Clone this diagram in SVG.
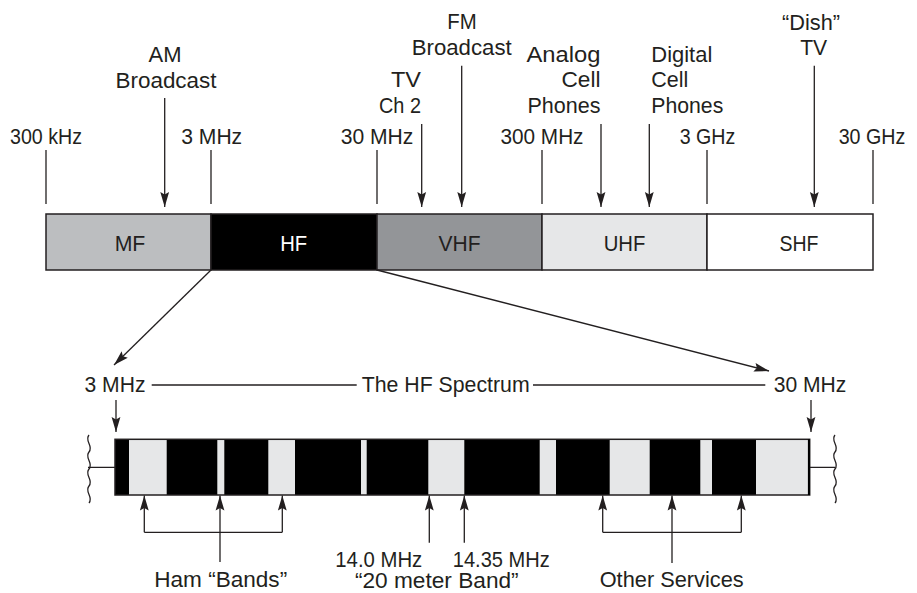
<svg xmlns="http://www.w3.org/2000/svg" width="917" height="593" viewBox="0 0 917 593">
<defs>
<style>
text{font-family:"Liberation Sans",Arial,sans-serif;font-size:21.5px;fill:#231f20}
.m{text-anchor:middle}.e{text-anchor:end}.s{text-anchor:start}
.w{fill:#ffffff}
.ln{stroke:#231f20;stroke-width:1.3;fill:none}
.ar{stroke:#231f20;stroke-width:1.3;fill:none;marker-end:url(#ah)}
.seg{stroke:#231f20;stroke-width:1.5}
.band{fill:#e6e7e8}
</style>
<marker id="ah" markerUnits="userSpaceOnUse" markerWidth="16" markerHeight="10" refX="15" refY="5" orient="auto">
<path d="M0,0.6 L15,5 L0,9.4 L2.5,5 Z" fill="#231f20"/>
</marker>
</defs>

<g id="frequency-labels">
<text class="m" x="46" y="144.3" textLength="72" lengthAdjust="spacingAndGlyphs">300 kHz</text>
<text class="m" x="211.7" y="144.3" textLength="61" lengthAdjust="spacingAndGlyphs">3 MHz</text>
<text class="m" x="377" y="144.3" textLength="72.6" lengthAdjust="spacingAndGlyphs">30 MHz</text>
<text class="m" x="542" y="144.3" textLength="83" lengthAdjust="spacingAndGlyphs">300 MHz</text>
<text class="m" x="707.5" y="144.3" textLength="55.6" lengthAdjust="spacingAndGlyphs">3 GHz</text>
<text class="m" x="872" y="144.3" textLength="66.6" lengthAdjust="spacingAndGlyphs">30 GHz</text>
</g>

<g id="service-labels">
<text class="m" x="165" y="62" textLength="33" lengthAdjust="spacingAndGlyphs">AM</text>
<text class="m" x="166" y="88" textLength="101" lengthAdjust="spacingAndGlyphs">Broadcast</text>
<text class="e" x="421" y="86.5" textLength="30" lengthAdjust="spacingAndGlyphs">TV</text>
<text class="e" x="421" y="112.7" textLength="42" lengthAdjust="spacingAndGlyphs">Ch 2</text>
<text class="m" x="462" y="29" textLength="29.4" lengthAdjust="spacingAndGlyphs">FM</text>
<text class="m" x="461.7" y="55" textLength="100" lengthAdjust="spacingAndGlyphs">Broadcast</text>
<text class="e" x="600.5" y="61.7" textLength="74" lengthAdjust="spacingAndGlyphs">Analog</text>
<text class="e" x="600.5" y="86.5" textLength="39" lengthAdjust="spacingAndGlyphs">Cell</text>
<text class="e" x="600.5" y="112.7" textLength="73" lengthAdjust="spacingAndGlyphs">Phones</text>
<text class="s" x="651.3" y="61.7" textLength="61" lengthAdjust="spacingAndGlyphs">Digital</text>
<text class="s" x="651.3" y="86.5" textLength="37" lengthAdjust="spacingAndGlyphs">Cell</text>
<text class="s" x="651.3" y="112.7" textLength="72" lengthAdjust="spacingAndGlyphs">Phones</text>
<text class="m" x="811" y="30" textLength="58" lengthAdjust="spacingAndGlyphs">“Dish”</text>
<text class="m" x="813.7" y="55" textLength="27" lengthAdjust="spacingAndGlyphs">TV</text>
</g>

<g id="spectrum-bar">
<rect class="seg" x="46" y="214" width="165" height="56" fill="#bcbec0"/>
<rect class="seg" x="211" y="214" width="166" height="56" fill="#000000"/>
<rect class="seg" x="377" y="214" width="165" height="56" fill="#939598"/>
<rect class="seg" x="542" y="214" width="165" height="56" fill="#e6e7e8"/>
<rect class="seg" x="707" y="214" width="166" height="56" fill="#ffffff"/>
<text class="m" x="130" y="250.7" textLength="30.7" lengthAdjust="spacingAndGlyphs">MF</text>
<text class="m w" x="293.7" y="250.7" textLength="27" lengthAdjust="spacingAndGlyphs">HF</text>
<text class="m" x="459.5" y="250.7" textLength="42" lengthAdjust="spacingAndGlyphs">VHF</text>
<text class="m" x="624.5" y="250.7" textLength="41.7" lengthAdjust="spacingAndGlyphs">UHF</text>
<text class="m" x="799" y="250.7" textLength="39" lengthAdjust="spacingAndGlyphs">SHF</text>
</g>

<g id="hf-spectrum-bar">
<rect x="115" y="439.3" width="694.7" height="55.7" fill="#000000"/>
<rect class="band" x="129" y="439.3" width="37.7" height="55.7"/>
<rect class="band" x="217.3" y="439.3" width="7" height="55.7"/>
<rect class="band" x="268.3" y="439.3" width="26.7" height="55.7"/>
<rect class="band" x="361" y="439.3" width="5.7" height="55.7"/>
<rect class="band" x="428.3" y="439.3" width="36" height="55.7"/>
<rect class="band" x="539.7" y="439.3" width="16.3" height="55.7"/>
<rect class="band" x="609.7" y="439.3" width="40" height="55.7"/>
<rect class="band" x="700.3" y="439.3" width="11.7" height="55.7"/>
<rect class="band" x="756" y="439.3" width="52.7" height="55.7"/>
<rect x="115" y="439.3" width="694.7" height="55.7" fill="none" stroke="#231f20" stroke-width="1.5"/>
<line x1="808.9" y1="439.3" x2="808.9" y2="495" stroke="#000" stroke-width="2"/>
</g>

<g id="hf-labels">
<text class="m" x="115" y="391.7" textLength="61" lengthAdjust="spacingAndGlyphs">3 MHz</text>
<text class="m" x="445.7" y="391.7" textLength="168" lengthAdjust="spacingAndGlyphs">The HF Spectrum</text>
<text class="m" x="810" y="391.7" textLength="72.6" lengthAdjust="spacingAndGlyphs">30 MHz</text>
<text class="m" x="220.7" y="586.7" textLength="133" lengthAdjust="spacingAndGlyphs">Ham “Bands”</text>
<text class="m" x="378.8" y="566.7" textLength="87" lengthAdjust="spacingAndGlyphs">14.0 MHz</text>
<text class="m" x="501.3" y="566.7" textLength="97" lengthAdjust="spacingAndGlyphs">14.35 MHz</text>
<text class="m" x="436.8" y="588" textLength="163.7" lengthAdjust="spacingAndGlyphs">“20 meter Band”</text>
<text class="m" x="671.7" y="586.7" textLength="144" lengthAdjust="spacingAndGlyphs">Other Services</text>
</g>

<g id="connectors">
<line class="ln" x1="46" y1="150" x2="46" y2="204"/>
<line class="ln" x1="211" y1="150" x2="211" y2="204"/>
<line class="ln" x1="377" y1="150" x2="377" y2="204"/>
<line class="ln" x1="542" y1="150" x2="542" y2="204"/>
<line class="ln" x1="707" y1="150" x2="707" y2="204"/>
<line class="ln" x1="873" y1="150" x2="873" y2="204"/>
<line class="ar" x1="164.7" y1="98" x2="164.7" y2="207"/>
<line class="ar" x1="421.7" y1="124" x2="421.7" y2="207"/>
<line class="ar" x1="461.7" y1="65.7" x2="461.7" y2="207"/>
<line class="ar" x1="601" y1="124" x2="601" y2="207"/>
<line class="ar" x1="649.3" y1="124" x2="649.3" y2="207"/>
<line class="ar" x1="814.3" y1="65.7" x2="814.3" y2="207"/>
<line class="ar" x1="211" y1="270" x2="114" y2="365"/>
<line class="ar" x1="377" y1="270" x2="769" y2="371"/>
<line class="ln" x1="151.7" y1="385" x2="356.7" y2="385"/>
<line class="ln" x1="533" y1="385" x2="765.3" y2="385"/>
<line class="ar" x1="116" y1="400" x2="116" y2="432"/>
<line class="ar" x1="811" y1="400" x2="811" y2="432"/>
<path class="ln" d="M88,467.3 H115 M810,467.3 H835"/>
<path class="ln" d="M89,435 c -5,6 5,11 0,17 s 5,11 0,17 s 5,11 0,17 s 5,11 0,17"/>
<path class="ln" d="M835,435 c -5,6 5,11 0,17 s 5,11 0,17 s 5,11 0,17 s 5,11 0,17"/>
<path class="ln" d="M144.3,532.3 H282.3"/>
<line class="ar" x1="144.3" y1="532.3" x2="144.3" y2="495.5"/>
<line class="ar" x1="220" y1="562" x2="220" y2="495.5"/>
<line class="ar" x1="282.3" y1="532.3" x2="282.3" y2="495.5"/>
<line class="ar" x1="429.3" y1="542.7" x2="429.3" y2="495.5"/>
<line class="ar" x1="464.3" y1="542.7" x2="464.3" y2="495.5"/>
<path class="ln" d="M602.7,532.3 H741.3"/>
<line class="ar" x1="602.7" y1="532.3" x2="602.7" y2="495.5"/>
<line class="ar" x1="672" y1="563" x2="672" y2="495.5"/>
<line class="ar" x1="741.3" y1="532.3" x2="741.3" y2="495.5"/>
</g>
</svg>
